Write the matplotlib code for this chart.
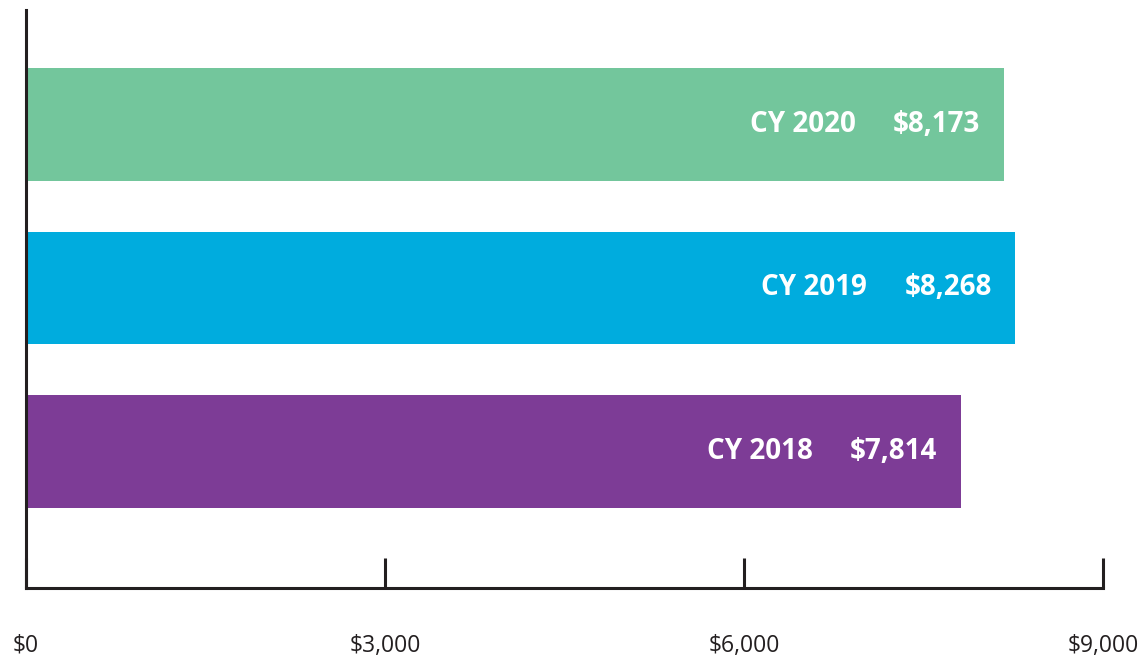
import matplotlib.pyplot as plt
import matplotlib.ticker as mticker

years = ["CY 2018", "CY 2019", "CY 2020"]
costs = [7814, 8268, 8173]
colors = ["#7D3C96", "#00ACDE", "#73C69C"]
x_ticks = [0, 3000, 6000, 9000]

plt.rcParams["font.family"] = ["Open Sans", "DejaVu Sans"]
ink = "#231F20"

fig = plt.figure(figsize=(11.43, 6.59), dpi=100)
ax = fig.add_axes([0.0227, 0.1077, 0.9423, 0.8771])

pos = range(len(years))
ax.barh(pos, costs, height=0.69, color=colors)

for y, yr, v in zip(pos, years, costs):
    ax.annotate(f"${v:,}", (v, y), xytext=(-17, 0), textcoords="offset points",
                ha="right", va="center", color="white", fontsize=20, fontweight="bold")
    ax.annotate(yr, (v, y), xytext=(-107, 0), textcoords="offset points",
                ha="right", va="center", color="white", fontsize=20, fontweight="bold")

ax.set_xlim(0, 9000)
ax.set_ylim(-0.835, 2.70)
ax.set_xticks(x_ticks)
ax.xaxis.set_major_formatter(mticker.FuncFormatter(lambda v, p: f"${v:,.0f}"))
ax.set_yticks([])
ax.tick_params(axis="x", direction="in", length=21.6, width=2.2, color=ink,
               labelsize=16.5, labelcolor=ink, pad=33)
for s in ["top", "right"]:
    ax.spines[s].set_visible(False)
for s in ["left", "bottom"]:
    ax.spines[s].set_linewidth(2.2)
    ax.spines[s].set_color(ink)
ax.set_facecolor("white")

fig.savefig("out.png", dpi=100)
